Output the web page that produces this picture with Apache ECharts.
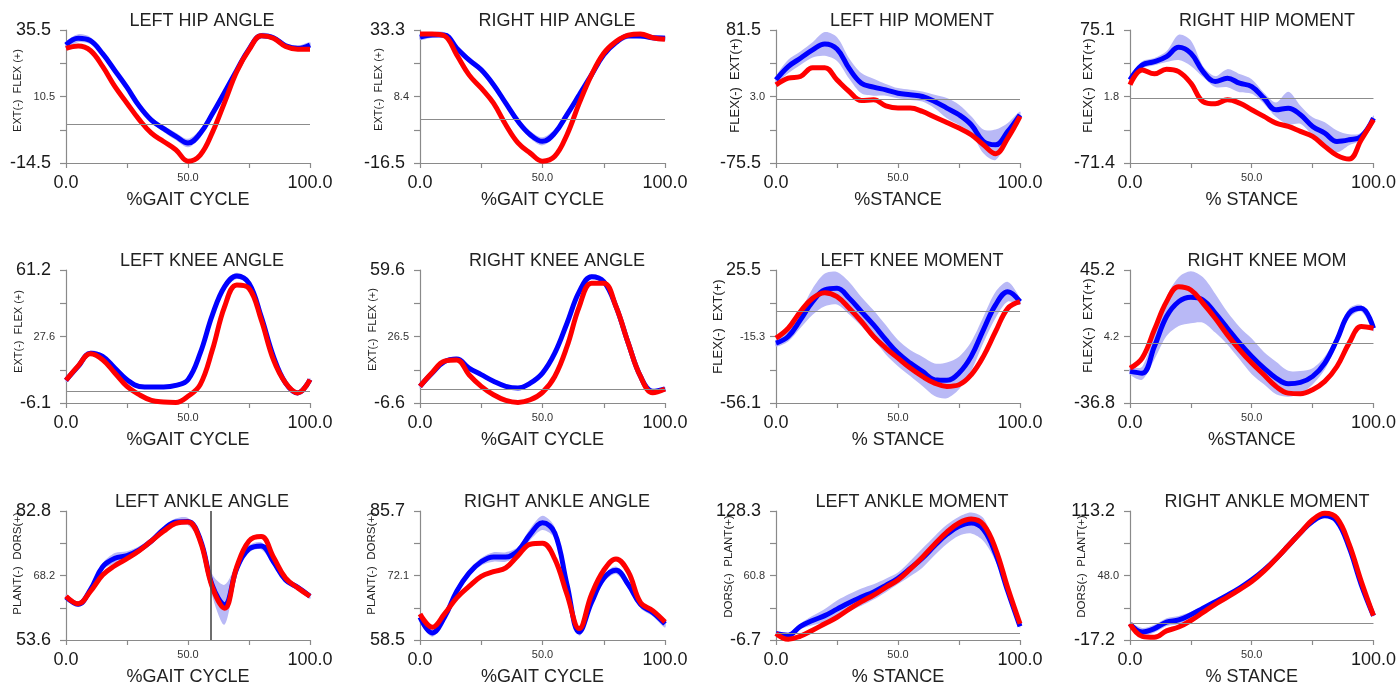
<!DOCTYPE html>
<html>
<head>
<meta charset="utf-8">
<title>Gait curves</title>
<script src="https://cdn.jsdelivr.net/npm/echarts@6/dist/echarts.min.js"></script>
<style>
  html, body { margin: 0; padding: 0; background: #fff; }
  #gaitCharts { width: 1399px; height: 687px; }
</style>
</head>
<body>
<div id="gaitCharts"></div>
<script>
// % of gait cycle / stance, shared by every curve
const pct = [0, 5, 10, 15, 20, 25, 30, 35, 40, 45, 50, 55, 60, 65, 70, 75, 80, 85, 90, 95, 100]

const titles = ['LEFT HIP ANGLE', 'RIGHT HIP ANGLE', 'LEFT HIP MOMENT', 'RIGHT HIP MOMENT',
  'LEFT KNEE ANGLE', 'RIGHT KNEE ANGLE', 'LEFT KNEE MOMENT', 'RIGHT KNEE MOM',
  'LEFT ANKLE ANGLE', 'RIGHT ANKLE ANGLE', 'LEFT ANKLE MOMENT', 'RIGHT ANKLE MOMENT']
const xNames = ['%GAIT CYCLE', '%GAIT CYCLE', '%STANCE', '% STANCE',
  '%GAIT CYCLE', '%GAIT CYCLE', '% STANCE', '%STANCE',
  '%GAIT CYCLE', '%GAIT CYCLE', '% STANCE', '% STANCE']
const yNames = ['EXT(-)  FLEX (+)', 'EXT(-)  FLEX (+)', 'FLEX(-)  EXT(+)', 'FLEX(-)  EXT(+)',
  'EXT(-)  FLEX (+)', 'EXT(-)  FLEX (+)', 'FLEX(-)  EXT(+)', 'FLEX(-)  EXT(+)',
  'PLANT(-)  DORS(+)', 'PLANT(-)  DORS(+)', 'DORS(-)  PLANT(+)', 'DORS(-)  PLANT(+)']

// y axis range and the printed middle tick label
const yMin = [-14.5, -16.5, -75.5, -71.4, -6.1, -6.6, -56.1, -36.8, 53.6, 58.5, -6.7, -17.2]
const yMax = [35.5, 33.3, 81.5, 75.1, 61.2, 59.6, 25.5, 45.2, 82.8, 85.7, 128.3, 113.2]
const yMidLabels = ['10.5', '8.4', '3.0', '1.8', '27.6', '26.5', '-15.3', '4.2', '68.2', '72.1', '60.8', '48.0']
const xTickLabels = ['0.0', '50.0', '100.0']

// vertical event line (toe off) on the left ankle angle
const leftToeOff = 59.2

// blue = mean with sd band, red = comparison trial
const hipAngleL = [29.9, 32.4, 31.5, 26.6, 20.3, 13.9, 6.9, 1.6, -1.6, -4.5, -7.0, -3.4, 4.0, 12.1, 20.4, 28.3, 33.3, 32.6, 29.6, 28.6, 29.9]
const hipAngleLSd = [1.2, 1.5, 1.3, 1.0, 1.0, 1.0, 1.0, 1.0, 1.2, 1.4, 1.6, 1.6, 1.3, 1.0, 1.0, 1.0, 1.0, 1.0, 1.0, 1.0, 1.0]
const hipAngleLCmp = [28.6, 29.5, 27.8, 21.8, 14.3, 8.0, 1.8, -3.3, -6.4, -9.5, -13.8, -11.5, -3.0, 8.3, 19.9, 28.0, 33.3, 32.4, 29.3, 28.3, 28.3]

const hipAngleR = [30.6, 31.4, 31.4, 26.5, 22.1, 18.4, 12.8, 5.9, -0.9, -5.9, -8.4, -5.3, 1.6, 9.0, 16.5, 24.0, 28.6, 31.1, 31.1, 30.4, 30.2]
const hipAngleRSd = [1.0, 1.0, 1.0, 1.0, 1.2, 1.2, 1.2, 1.2, 1.2, 1.4, 1.5, 1.4, 1.2, 1.0, 1.0, 1.0, 1.0, 1.0, 1.0, 1.0, 1.0]
const hipAngleRCmp = [31.8, 31.8, 31.1, 24.0, 16.5, 11.5, 5.9, -2.2, -9.0, -12.8, -15.8, -14.0, -5.9, 5.9, 16.5, 24.6, 29.0, 31.4, 31.8, 30.4, 29.8]

const hipMomL = [22.6, 38.3, 48.1, 58.0, 65.0, 59.0, 36.0, 18.7, 14.0, 10.9, 6.9, 5.0, 3.0, -2.9, -10.7, -18.6, -30.4, -50.0, -54.0, -38.2, -18.6]
const hipMomLSd = [4, 8, 8, 9, 14, 14, 12, 12, 10, 7, 6, 6, 6, 8, 12, 12, 10, 14, 18, 10, 4]
const hipMomLCmp = [16.7, 24.6, 26.6, 37.0, 37.0, 22.6, 8.9, -1.7, -0.9, -8.0, -10.7, -10.7, -14.6, -21.3, -27.6, -34.3, -42.1, -53.9, -64.5, -46.1, -20.5]

const hipMomR = [20.2, 36.6, 40.3, 45.8, 56.0, 49.5, 29.3, 18.3, 22.0, 16.5, 12.8, 0.0, -12.8, -11.0, -18.3, -31.1, -38.5, -47.6, -45.8, -42.1, -22.0]
const hipMomRSd = [3, 4, 4, 6, 14, 14, 6, 6, 10, 10, 8, 6, 8, 18, 10, 10, 12, 12, 6, 4, 3]
const hipMomRCmp = [14.7, 31.1, 26.8, 31.9, 29.3, 16.5, -3.7, -6.2, -1.8, -5.5, -12.8, -20.1, -27.5, -31.1, -36.6, -42.1, -53.1, -63.0, -67.0, -45.8, -23.8]

const kneeAngleL = [5.4, 12.4, 19.1, 17.5, 11.6, 5.7, 2.3, 2.0, 2.0, 2.8, 5.7, 19.1, 38.5, 52.8, 58.2, 54.5, 37.6, 17.5, 4.0, -1.0, 5.7]
const kneeAngleLSd = [1.0, 1.0, 1.2, 1.2, 1.0, 1.0, 1.0, 1.0, 1.0, 1.0, 1.2, 1.6, 2.0, 2.0, 1.6, 1.2, 1.0, 1.0, 1.0, 1.0, 1.0]
const kneeAngleLCmp = [5.4, 12.7, 18.8, 15.8, 9.1, 2.3, -1.9, -4.8, -5.6, -5.8, -2.7, 3.2, 20.8, 42.7, 53.6, 51.9, 36.0, 15.8, 4.0, -1.0, 5.7]

const kneeAngleR = [1.7, 8.3, 14.0, 15.3, 10.8, 7.5, 4.2, 1.7, 0.9, 3.3, 8.3, 18.2, 33.1, 48.8, 56.3, 53.8, 41.4, 23.2, 6.6, -0.8, 0.4]
const kneeAngleRSd = [1.0, 1.0, 1.0, 1.0, 1.0, 1.0, 1.0, 1.0, 1.0, 1.0, 1.0, 1.2, 1.2, 1.2, 1.2, 1.0, 1.0, 1.0, 1.0, 1.0, 1.0]
const kneeAngleRCmp = [1.7, 8.6, 14.2, 14.8, 7.5, 1.7, -2.5, -5.3, -6.3, -5.0, -1.3, 6.6, 21.5, 41.4, 53.0, 53.0, 41.4, 23.2, 6.6, -1.5, 0.4]

const kneeMomL = [-19.4, -15.3, -5.1, 6.1, 13.3, 14.3, 8.2, 0.0, -8.2, -17.3, -25.5, -31.6, -36.7, -41.8, -42.2, -37.7, -27.5, -11.2, 4.1, 12.2, 6.1]
const kneeMomLSd = [2, 3, 5, 8, 10, 10, 10, 9, 9, 9, 8, 8, 9, 10, 11, 10, 9, 8, 8, 6, 2]
const kneeMomLCmp = [-16.3, -10.2, 0.0, 8.2, 11.6, 9.2, 2.0, -6.1, -15.3, -22.4, -28.6, -34.7, -39.8, -43.9, -45.9, -44.9, -38.8, -27.5, -12.2, 2.0, 6.1]

const kneeMomR = [-17.3, -18.4, -2.0, 16.5, 25.7, 28.4, 26.7, 18.6, 9.3, 0.1, -8.1, -15.3, -21.4, -24.9, -24.1, -20.4, -12.2, 2.2, 18.5, 21.6, 9.3]
const kneeMomRSd = [2, 4, 8, 12, 15, 16, 14, 12, 10, 10, 11, 10, 10, 8, 7, 5, 4, 3, 3, 2, 2]
const kneeMomRCmp = [-15.3, -9.1, 8.3, 25.7, 34.9, 32.9, 24.7, 15.5, 5.2, -4.0, -12.2, -19.4, -26.6, -30.7, -31.1, -28.6, -23.5, -14.3, 0.1, 10.3, 9.3]

const ankleAngleL = [63.3, 61.7, 65.0, 70.2, 72.1, 72.7, 74.0, 76.0, 78.6, 80.3, 80.4, 76.4, 65.9, 61.6, 69.8, 74.2, 74.9, 71.3, 67.2, 65.5, 63.5]
const ankleAngleLSd = [0.6, 0.6, 0.6, 0.8, 1.2, 1.0, 0.8, 0.8, 0.8, 0.8, 0.8, 0.8, 2.5, 4.5, 1.2, 0.8, 0.8, 0.8, 0.6, 0.6, 0.6]
const ankleAngleLCmp = [63.5, 61.8, 64.6, 68.3, 70.4, 72.0, 73.8, 76.0, 78.2, 80.0, 80.3, 76.0, 65.5, 60.8, 70.2, 76.0, 77.0, 72.4, 67.6, 65.4, 63.5]

const ankleAngleR = [63.3, 60.0, 63.3, 68.8, 72.6, 75.0, 76.0, 76.0, 77.3, 80.8, 83.2, 81.1, 70.2, 60.2, 66.4, 71.5, 73.2, 70.2, 66.0, 64.3, 61.9]
const ankleAngleRSd = [0.8, 0.8, 0.8, 0.8, 0.8, 0.8, 1.0, 1.0, 0.8, 1.2, 1.5, 1.2, 0.8, 0.8, 0.8, 0.8, 0.8, 0.8, 0.8, 0.8, 0.8]
const ankleAngleRCmp = [64.0, 61.2, 64.0, 67.4, 69.8, 71.9, 72.9, 73.7, 76.3, 78.7, 78.9, 75.6, 68.1, 60.9, 68.1, 73.2, 75.6, 72.9, 66.4, 64.7, 62.3]

const ankleMomL = [0.1, -1.6, 7.6, 13.7, 18.8, 25.6, 32.4, 38.2, 43.6, 50.4, 57.9, 68.1, 79.0, 91.9, 103.8, 112.3, 115.7, 108.9, 83.4, 44.3, 7.6]
const ankleMomLSd = [1, 2, 3, 5, 7, 9, 9, 9, 8, 7, 6, 8, 10, 10, 10, 10, 11, 12, 8, 4, 2]
const ankleMomLCmp = [0.1, -6.0, -2.6, 3.5, 10.3, 17.1, 25.6, 33.4, 40.2, 48.4, 56.2, 67.4, 80.0, 93.6, 106.2, 115.7, 119.8, 114.0, 88.5, 47.7, 10.3]

const ankleMomR = [-0.8, -9.0, -5.7, 0.9, 3.1, 8.4, 15.0, 21.5, 28.1, 35.3, 43.6, 53.4, 64.9, 78.0, 91.2, 102.7, 108.3, 102.7, 76.4, 38.6, 7.4]
const ankleMomRSd = [1, 4, 4, 4, 4, 3, 2, 2, 2, 2, 2, 2, 2, 2, 2, 2, 2, 2, 2, 2, 1]
const ankleMomRCmp = [-0.8, -13.5, -14.5, -8.0, -4.1, 2.5, 10.7, 18.9, 26.1, 33.7, 41.9, 52.4, 64.9, 78.0, 91.2, 104.3, 110.9, 106.0, 79.7, 41.9, 7.4]

const panels = [
  { mean: hipAngleL, sd: hipAngleLSd, cmp: hipAngleLCmp },
  { mean: hipAngleR, sd: hipAngleRSd, cmp: hipAngleRCmp },
  { mean: hipMomL, sd: hipMomLSd, cmp: hipMomLCmp },
  { mean: hipMomR, sd: hipMomRSd, cmp: hipMomRCmp },
  { mean: kneeAngleL, sd: kneeAngleLSd, cmp: kneeAngleLCmp },
  { mean: kneeAngleR, sd: kneeAngleRSd, cmp: kneeAngleRCmp },
  { mean: kneeMomL, sd: kneeMomLSd, cmp: kneeMomLCmp },
  { mean: kneeMomR, sd: kneeMomRSd, cmp: kneeMomRCmp },
  { mean: ankleAngleL, sd: ankleAngleLSd, cmp: ankleAngleLCmp, eventX: leftToeOff },
  { mean: ankleAngleR, sd: ankleAngleRSd, cmp: ankleAngleRCmp },
  { mean: ankleMomL, sd: ankleMomLSd, cmp: ankleMomLCmp },
  { mean: ankleMomR, sd: ankleMomRSd, cmp: ankleMomRCmp }
]

// layout (px)
const cols = [{ left: 66, width: 244 }, { left: 420, width: 245 }, { left: 776, width: 244 }, { left: 1130, width: 245 }]
const rows = [{ top: 30, height: 133 }, { top: 270, height: 133 }, { top: 511, height: 132 }]
const titleCenters = [202, 557, 912, 1267]
const titleTops = [12, 252, 493]
const yNameGap = [43, 36, 34, 35, 42, 42, 51, 35, 42, 42, 41, 42]
const yNameLift = [6, 7, 11, 11, 5, 7, 10, 11, 12, 12, 9, 9]
const yNameSize = [11, 11, 13, 13, 11, 11, 13, 13, 11.5, 11.5, 11.5, 11.5]

const FONT = '"Liberation Sans", Arial, sans-serif'
const BLUE = '#0000ff'
const RED = '#ff0000'
const BAND = '#b9b9f6'
const AXIS_GRAY = '#8a8a8a'

const grid = []
const xAxis = []
const yAxis = []
const title = []
const series = []

// sd band drawn as one smoothed polygon through the axis scales
function bandRenderer(p) {
  return function (params, api) {
    const upper = pct.map((x, j) => api.coord([x, p.mean[j] + p.sd[j]]))
    const lower = pct.map((x, j) => api.coord([x, p.mean[j] - p.sd[j]])).reverse()
    return {
      type: 'polygon',
      shape: { points: upper.concat(lower), smooth: 0.3 },
      style: { fill: BAND, stroke: null }
    }
  }
}

panels.forEach((p, i) => {
  const col = cols[i % 4]
  const row = rows[Math.floor(i / 4)]
  const min = yMin[i]
  const max = yMax[i]
  const step = (max - min) / 4

  grid.push({ left: col.left, width: col.width, top: row.top, height: row.height })

  title.push({
    text: titles[i],
    left: titleCenters[i % 4],
    top: titleTops[Math.floor(i / 4)],
    textAlign: 'center',
    padding: 0,
    textStyle: { fontSize: 18, fontWeight: 'normal', color: '#222', fontFamily: FONT }
  })

  xAxis.push({
    type: 'value',
    gridIndex: i,
    min: 0,
    max: 100,
    interval: 25,
    name: xNames[i],
    nameLocation: 'middle',
    nameGap: 28,
    nameMoveOverlap: false,
    nameTextStyle: { fontSize: 18, color: '#222', fontFamily: FONT },
    axisLine: { show: true, onZero: false, lineStyle: { color: AXIS_GRAY, width: 1.2 } },
    axisTick: { show: true, length: 5, lineStyle: { color: AXIS_GRAY, width: 1.2 } },
    splitLine: { show: false },
    axisLabel: {
      margin: 8,
      formatter: v => {
        if (v === 0) return '{big|' + xTickLabels[0] + '}'
        if (v === 50) return '{small|' + xTickLabels[1] + '}'
        if (v === 100) return '{big|' + xTickLabels[2] + '}'
        return ''
      },
      rich: {
        big: { fontSize: 18, lineHeight: 20, padding: [5, 0, 0, 0], color: '#1a1a1a', fontFamily: FONT },
        small: { fontSize: 11, lineHeight: 13, color: '#333', fontFamily: FONT }
      }
    }
  })

  yAxis.push({
    type: 'value',
    gridIndex: i,
    min: min,
    max: max,
    interval: step,
    name: yNames[i],
    nameLocation: 'middle',
    nameGap: yNameGap[i],
    nameMoveOverlap: false,
    nameTextStyle: { fontSize: yNameSize[i], color: '#222', fontFamily: FONT, padding: [0, 0, 0, 2 * yNameLift[i]] },
    axisLine: { show: true, onZero: false, lineStyle: { color: AXIS_GRAY, width: 1.2 } },
    axisTick: { show: true, length: 6, lineStyle: { color: AXIS_GRAY, width: 1.2 } },
    splitLine: { show: false },
    axisLabel: {
      margin: 11,
      showMinLabel: true,
      showMaxLabel: true,
      formatter: v => {
        const k = Math.round((v - min) / step)
        if (k === 0) return '{big|' + min.toFixed(1) + '}'
        if (k === 4) return '{big|' + max.toFixed(1) + '}'
        if (k === 2) return '{small|' + yMidLabels[i] + '}'
        return ''
      },
      rich: {
        big: { fontSize: 18, lineHeight: 20, padding: [0, 4, 0, 0], color: '#1a1a1a', fontFamily: FONT },
        small: { fontSize: 11, lineHeight: 13, color: '#333', fontFamily: FONT }
      }
    }
  })

  // reference lines: zero level, and toe-off marker where there is one
  const refLines = []
  if (min < 0 && max > 0) refLines.push({ yAxis: 0, lineStyle: { color: '#8c8c8c', width: 1 } })
  if (p.eventX != null) refLines.push({ xAxis: p.eventX, lineStyle: { color: '#4a4a4a', width: 1.6 } })

  const common = { type: 'line', xAxisIndex: i, yAxisIndex: i, symbol: 'none', smooth: 0.4, animation: false }

  series.push({
    type: 'custom',
    xAxisIndex: i,
    yAxisIndex: i,
    data: [[0, p.mean[0]]],
    renderItem: bandRenderer(p),
    silent: true,
    animation: false,
    markLine: {
      silent: true,
      symbol: ['none', 'none'],
      label: { show: false },
      lineStyle: { type: 'solid' },
      data: refLines
    }
  })
  series.push(Object.assign({}, common, {
    data: pct.map((x, j) => [x, p.mean[j]]),
    lineStyle: { color: BLUE, width: 5 }
  }))
  series.push(Object.assign({}, common, {
    data: pct.map((x, j) => [x, p.cmp[j]]),
    lineStyle: { color: RED, width: 5 }
  }))
})

const gaitChart = echarts.init(document.getElementById('gaitCharts'))
gaitChart.setOption({
  animation: false,
  textStyle: { fontFamily: FONT },
  title: title,
  grid: grid,
  xAxis: xAxis,
  yAxis: yAxis,
  series: series
})
window.addEventListener('resize', () => { gaitChart.resize() })
</script>
</body>
</html>
